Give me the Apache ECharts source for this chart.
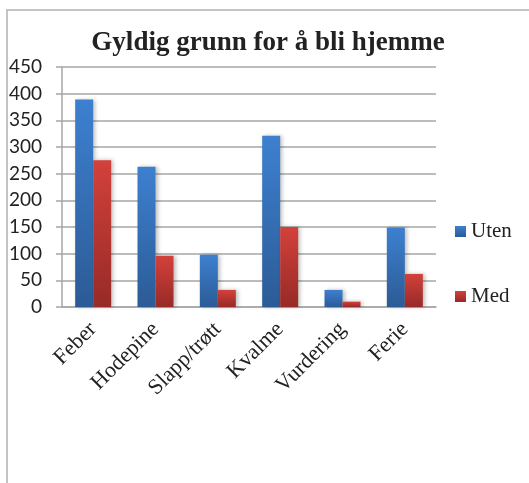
<!DOCTYPE html>
<html>
<head>
<meta charset="utf-8">
<script src="https://cdn.jsdelivr.net/npm/echarts@6/dist/echarts.min.js"></script>
<style>
  html, body { margin: 0; padding: 0; background: #fff; }
  #frame { position: absolute; left: 6px; top: 9px; width: 540px; height: 500px; border-left: 2px solid #c4c4c4; border-top: 2px solid #c4c4c4; }
  #chart { position: absolute; left: 0; top: 0; width: 529px; height: 483px; }
</style>
</head>
<body>
<div id="frame"></div>
<div id="chart"></div>
<script>
const categories = ['Feber', 'Hodepine', 'Slapp/trøtt', 'Kvalme', 'Vurdering', 'Ferie'];
const uten = [389, 263, 98, 321, 32, 149];
const med = [275, 96, 32, 150, 10, 62];
const yTicks = { min: 0, max: 450, interval: 50 };

const chart = echarts.init(document.getElementById('chart'));

function grad(top, bottom) {
  return new echarts.graphic.LinearGradient(0, 0, 0, 1, [
    { offset: 0, color: top },
    { offset: 1, color: bottom },
  ]);
}

const option = {
  animation: false,
  title: {
    text: 'Gyldig grunn for å bli hjemme',
    left: 263,
    textAlign: 'center',
    top: 25,
    textStyle: {
      fontFamily: 'Liberation Serif',
      fontWeight: 'bold',
      fontSize: 27,
      color: '#222',
    },
  },
  legend: {
    orient: 'vertical',
    left: 450,
    top: 216,
    itemWidth: 11,
    itemHeight: 11,
    itemGap: 44,
    icon: 'rect',
    data: ['Uten', 'Med'],
    textStyle: {
      fontFamily: 'Liberation Serif',
      fontSize: 21,
      color: '#222',
    },
  },
  grid: {
    left: 62,
    right: 93,
    top: 67,
    bottom: 176,
  },
  xAxis: {
    type: 'category',
    data: categories,
    axisLine: { lineStyle: { color: '#a6a6a6', width: 1.5 } },
    axisTick: { show: false },
    axisLabel: {
      rotate: 45,
      interval: 0,
      margin: 19,
      fontFamily: 'Liberation Serif',
      fontSize: 22,
      color: '#222',
    },
  },
  yAxis: {
    type: 'value',
    min: yTicks.min,
    max: yTicks.max,
    interval: yTicks.interval,
    axisLine: { show: true, lineStyle: { color: '#a6a6a6', width: 1.5 } },
    axisTick: { show: true, length: 6, lineStyle: { color: '#a6a6a6', width: 1.5 } },
    splitLine: { lineStyle: { color: '#a6a6a6', width: 1.5 } },
    axisLabel: {
      margin: 20,
      fontFamily: 'Lato',
      fontSize: 19,
      color: '#222',
    },
  },
  series: [
    {
      name: 'Uten',
      type: 'bar',
      data: uten,
      barWidth: 18,
      barGap: '0%',
      itemStyle: {
        color: grad('#3d80d0', '#2c5b96'),
        shadowColor: 'rgba(0,0,0,0.25)',
        shadowBlur: 4,
        shadowOffsetX: 2,
      },
    },
    {
      name: 'Med',
      type: 'bar',
      data: med,
      barWidth: 18,
      barGap: '0%',
      itemStyle: {
        color: grad('#d3413b', '#972a27'),
        shadowColor: 'rgba(0,0,0,0.25)',
        shadowBlur: 4,
        shadowOffsetX: 2,
      },
    },
  ],
};

chart.setOption(option);
</script>
</body>
</html>
